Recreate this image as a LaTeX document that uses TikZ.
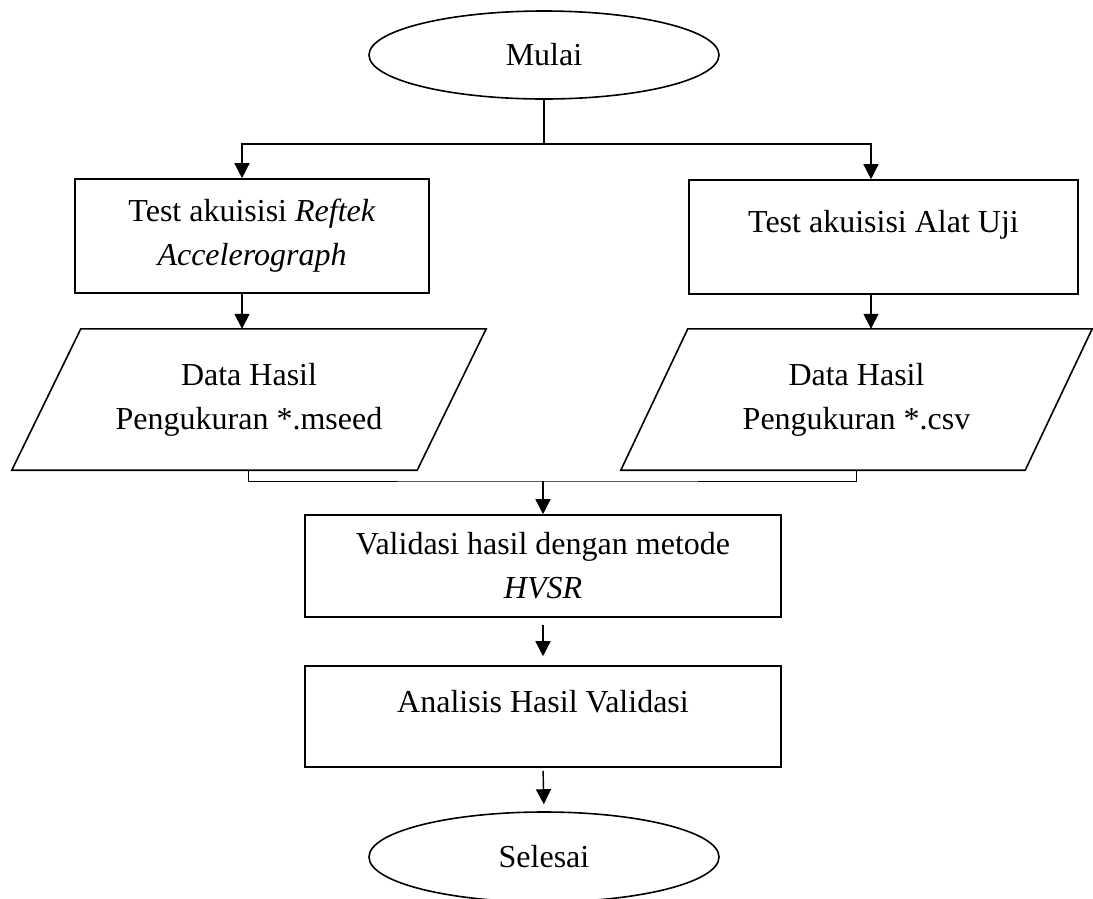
\documentclass[tikz,border=0pt]{standalone}
\usepackage{fontspec}
\setmainfont{Liberation Serif}
\usetikzlibrary{arrows.meta,shapes.geometric,calc}
\begin{document}
\begin{tikzpicture}[x=1pt,y=-1pt,
  every node/.style={font=\fontsize{32}{44}\selectfont, align=center, inner sep=0pt},
  terminal/.style={ellipse, draw, line width=1.6pt, minimum width=350pt, minimum height=88pt},
  procbox/.style={rectangle, draw, line width=1.6pt},
  iobox/.style={rectangle, minimum height=141pt},
  shapeline/.style={line width=1.6pt, line join=miter},
  conn/.style={line width=1.4pt},
  arr/.style={line width=1.4pt, -{Triangle[width=15pt,length=15pt]}},
  mergeline/.style={line width=0.8pt}]
\useasboundingbox (0,0) rectangle (1093,898);
\clip (0,0) rectangle (1093,898);

% terminals
\node[terminal] (start) at (544,55) {Mulai};
\node[terminal, minimum height=90pt] (finish) at (544,857) {Selesai};

% process boxes
\node[procbox, minimum width=354pt, minimum height=114pt] (b1) at (252,236)
  {Test akuisisi \textit{Reftek}\\\textit{Accelerograph}};
\node[procbox, minimum width=389pt, minimum height=114pt, text height=22pt, text depth=32pt] (b2) at (883.5,237)
  {Test akuisisi Alat Uji};
\node[procbox, minimum width=476pt, minimum height=102pt] (v) at (543,566)
  {Validasi hasil dengan metode\\\textit{HVSR}};
\node[procbox, minimum width=476pt, minimum height=101pt, text height=22pt, text depth=31pt] (a) at (543,716.5)
  {Analisis Hasil Validasi};

% input/output parallelograms
\node[iobox, minimum width=405pt] (p1) at (249,399.5)
  {Data Hasil\\Pengukuran *.mseed};
\draw[shapeline] ([xshift=34.5pt]p1.north west) -- ([xshift=34.5pt]p1.north east)
  -- ([xshift=-34.5pt]p1.south east) -- ([xshift=-34.5pt]p1.south west) -- cycle;
\node[iobox, minimum width=404pt] (p2) at (856.5,399.5)
  {Data Hasil\\Pengukuran *.csv};
\draw[shapeline] ([xshift=33.5pt]p2.north west) -- ([xshift=33.5pt]p2.north east)
  -- ([xshift=-33.5pt]p2.south east) -- ([xshift=-33.5pt]p2.south west) -- cycle;

% connectors
\coordinate (br) at (544,144);
\draw[conn] (start.south) -- (br);
\draw[arr] (br) -| ([xshift=-10pt]b1.north);
\draw[arr] (br) -| ([xshift=-12.5pt]b2.north);
\draw[arr] ([xshift=-10pt]b1.south) -- ([xshift=-10pt]b1.south |- p1.north);
\draw[arr] ([xshift=-12.5pt]b2.south) -- ([xshift=-12.5pt]b2.south |- p2.north);

\coordinate (m) at (543,481);
\draw[mergeline] ([xshift=-1pt]p1.south) |- (m) -| (p2.south);
\draw[arr] (m) -- (v.north);
\draw[arr, shorten <=7pt, shorten >=9pt] (v.south) -- (a.north);
\draw[arr, shorten <=3pt, shorten >=7pt] (a.south) -- (finish.north);
\end{tikzpicture}
\end{document}
